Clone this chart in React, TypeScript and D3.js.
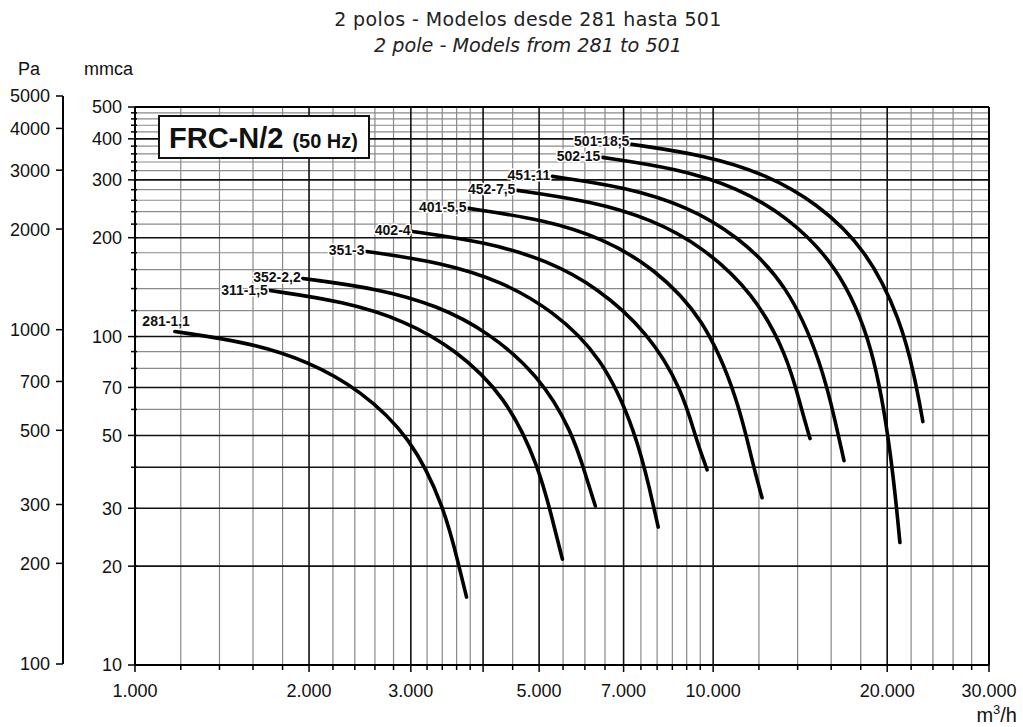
import React from "react";
import * as d3 from "d3";

// caudal m3/h, presión mmca
const c281: [number, number][] = [[1172, 103.6], [1580, 95.9], [2000, 83.9], [2447, 68.9], [3000, 49.6], [3431, 30.1], [3628, 20.2], [3745, 16.1]];
const c311: [number, number][] = [[1711, 138.1], [2300, 127.9], [2926, 111.9], [3570, 91.9], [4372, 66.1], [5000, 40.2], [5293, 26.9], [5486, 21.0]];
const c352: [number, number][] = [[1950, 150.3], [2628, 140.1], [3337, 124.3], [4071, 103.6], [4986, 76.6], [5707, 51.3], [6035, 37.2], [6255, 30.5]];
const c351: [number, number][] = [[2515, 181.6], [3390, 168.1], [4304, 147.2], [5251, 120.9], [6433, 86.9], [7362, 50.6], [7785, 33.7], [8035, 26.3]];
const c402: [number, number][] = [[3021, 209.0], [4071, 193.5], [5168, 170.5], [6306, 141.1], [7723, 102.8], [8842, 68.9], [9346, 48.5], [9763, 39.3]];
const c401: [number, number][] = [[3775, 245.6], [5086, 227.3], [6457, 198.9], [7876, 162.3], [9649, 114.3], [11046, 64.3], [11679, 41.6], [12151, 32.3]];
const c452: [number, number][] = [[4586, 278.7], [6180, 258.0], [7844, 227.3], [9574, 188.1], [11725, 136.2], [13421, 88.1], [14191, 60.8], [14708, 48.9]];
const c451: [number, number][] = [[5272, 307.4], [7106, 284.6], [9018, 249.0], [11003, 203.2], [13474, 144.1], [15428, 82.2], [16311, 53.9], [16840, 41.9]];
const c502: [number, number][] = [[6433, 351.3], [8666, 325.2], [11003, 284.6], [13421, 232.2], [16379, 165.8], [18970, 94.5], [20382, 42.2], [21038, 23.6]];
const c501: [number, number][] = [[7220, 384.9], [9725, 356.3], [12346, 311.8], [15063, 256.2], [18450, 184.2], [21120, 111.9], [22333, 75.0], [23055, 55.1]];

const curves = [
  { label: "281-1,1", pts: c281 },
  { label: "311-1,5", pts: c311 },
  { label: "352-2,2", pts: c352 },
  { label: "351-3", pts: c351 },
  { label: "402-4", pts: c402 },
  { label: "401-5,5", pts: c401 },
  { label: "452-7,5", pts: c452 },
  { label: "451-11", pts: c451 },
  { label: "502-15", pts: c502 },
  { label: "501-18,5", pts: c501 },
];

const xLabelTicks = [1000, 2000, 3000, 5000, 7000, 10000, 20000, 30000];
const xLabels = ["1.000", "2.000", "3.000", "5.000", "7.000", "10.000", "20.000", "30.000"];
const xMajor = [1000, 2000, 3000, 4000, 5000, 7000, 10000, 20000, 30000];
const xGrid = [...d3.range(1000, 4000, 200), ...d3.range(4000, 10000, 500), ...d3.range(10000, 30001, 2000)];

const yLabelTicks = [10, 20, 30, 50, 70, 100, 200, 300, 400, 500];
const yMajor = [10, 20, 30, 40, 50, 70, 100, 200, 300, 400, 500];
const yMinor = [40, 60, 80, 90, 120, 140, 160, 180, 220, 240, 260, 280, 320, 340, 360, 380, 420, 440, 460, 480];
const paTicks = [5000, 4000, 3000, 2000, 1000, 700, 500, 300, 200, 100];

const FONT = "'Liberation Sans', Arial, sans-serif";
const TITLE_FONT = "'DejaVu Sans', sans-serif";

export default function App() {
  const left = 135, right = 989, top = 107, bottom = 665;
  const x = d3.scaleLog().domain([1000, 30000]).range([left, right]);
  const y = d3.scaleLog().domain([10, 500]).range([bottom, top]);
  const yPa = d3.scaleLog().domain([100, 5000]).range([664, 96]);

  const line = d3
    .line<[number, number]>()
    .x((d) => x(d[0]))
    .y((d) => y(d[1]))
    .curve(d3.curveBasis);

  const yGrid = [...yMinor, ...yMajor];

  return (
    <div style={{ position: "absolute", left: 0, top: 0 }}>
      <svg width={1023} height={727} style={{ display: "block", background: "#fff" }} fontFamily={FONT}>
        {/* titulo */}
        <text x={528} y={26} textAnchor="middle" fontFamily={TITLE_FONT} fontSize={19} letterSpacing={0.4} fill="#222">
          2 polos - Modelos desde 281 hasta 501
        </text>
        <text x={528} y={52} textAnchor="middle" fontFamily={TITLE_FONT} fontSize={19.2} fontStyle="italic" fill="#222">
          2 pole - Models from 281 to 501
        </text>

        {/* rejilla */}
        {xGrid.filter((v) => !xMajor.includes(v)).map((v) => (
          <line key={"xg" + v} x1={x(v)} x2={x(v)} y1={top} y2={bottom} stroke="#8a8a8a" strokeWidth={1.2} />
        ))}
        {yGrid.filter((v) => !yMajor.includes(v)).map((v) => (
          <line key={"yg" + v} x1={left} x2={right} y1={y(v)} y2={y(v)} stroke="#8a8a8a" strokeWidth={1.2} />
        ))}
        {xMajor.map((v) => (
          <line key={"xm" + v} x1={x(v)} x2={x(v)} y1={top} y2={bottom} stroke="#111" strokeWidth={1.6} />
        ))}
        {yMajor.map((v) => (
          <line key={"ym" + v} x1={left} x2={right} y1={y(v)} y2={y(v)} stroke="#111" strokeWidth={1.6} />
        ))}

        {/* eje x */}
        <line x1={left} x2={right} y1={bottom} y2={bottom} stroke="#000" strokeWidth={2} />
        {xGrid.map((v) => (
          <line key={"xt" + v} x1={x(v)} x2={x(v)} y1={bottom} y2={bottom + (xMajor.includes(v) ? 7 : 5)} stroke="#000" strokeWidth={1.5} />
        ))}
        {xLabelTicks.map((v, i) => (
          <text key={"xl" + v} x={x(v)} y={697} textAnchor="middle" fontSize={18} fill="#111">
            {xLabels[i]}
          </text>
        ))}
        <text x={1017} y={722} textAnchor="end" fontSize={20} fill="#111">
          m<tspan fontSize={13} dy={-8}>3</tspan>
          <tspan dy={8}>/h</tspan>
        </text>

        {/* eje mmca */}
        <line x1={left} x2={left} y1={top} y2={bottom} stroke="#000" strokeWidth={2} />
        {yLabelTicks.map((v) => (
          <g key={"yl" + v}>
            <line x1={left - 7} x2={left + 2} y1={y(v)} y2={y(v)} stroke="#000" strokeWidth={1.5} />
            <text x={122} y={y(v)} dy="0.36em" textAnchor="end" fontSize={18} fill="#111">
              {v}
            </text>
          </g>
        ))}
        {yMinor.map((v) => (
          <line key={"ymt" + v} x1={left - 4} x2={left + 2} y1={y(v)} y2={y(v)} stroke="#000" strokeWidth={1.5} />
        ))}
        <text x={84} y={75} fontSize={18} fill="#111">mmca</text>

        {/* eje Pa */}
        <line x1={63} x2={63} y1={yPa(5000)} y2={yPa(100)} stroke="#000" strokeWidth={2} />
        {paTicks.map((v) => (
          <g key={"pa" + v}>
            <line x1={56} x2={63} y1={yPa(v)} y2={yPa(v)} stroke="#000" strokeWidth={1.5} />
            <text x={50} y={yPa(v)} dy="0.36em" textAnchor="end" fontSize={18} fill="#111">
              {v}
            </text>
          </g>
        ))}
        <text x={18} y={75} fontSize={18} fill="#111">Pa</text>

        {/* borde */}
        <line x1={left} x2={right} y1={top} y2={top} stroke="#000" strokeWidth={2} />
        <line x1={right} x2={right} y1={top} y2={bottom} stroke="#000" strokeWidth={2} />

        {/* leyenda */}
        <rect x={159} y={116} width={210} height={42} fill="#fff" stroke="#111" strokeWidth={2} />
        <text x={169} y={148} fontSize={29} fontWeight="bold" fill="#111">
          FRC-N/2
          <tspan fontSize={20} dx={9}>(50 Hz)</tspan>
        </text>

        {/* curvas */}
        {curves.map((c) => (
          <path key={c.label} d={line(c.pts) ?? ""} fill="none" stroke="#000" strokeWidth={3.6} strokeLinecap="round" />
        ))}
        {curves.map((c, i) => {
          const sx = x(c.pts[0][0]);
          const sy = y(c.pts[0][1]);
          const lx = i === 0 ? sx + 15 : sx - 2;
          const ly = i === 0 ? sy - 6 : i === curves.length - 1 ? sy + 2 : sy + 4;
          return (
            <text
              key={"lab" + c.label}
              x={lx}
              y={ly}
              textAnchor="end"
              fontSize={14}
              fontWeight="bold"
              fill="#111"
              stroke="#fff"
              strokeWidth={3}
              paintOrder="stroke"
              strokeLinejoin="round"
            >
              {c.label}
            </text>
          );
        })}
      </svg>
    </div>
  );
}
